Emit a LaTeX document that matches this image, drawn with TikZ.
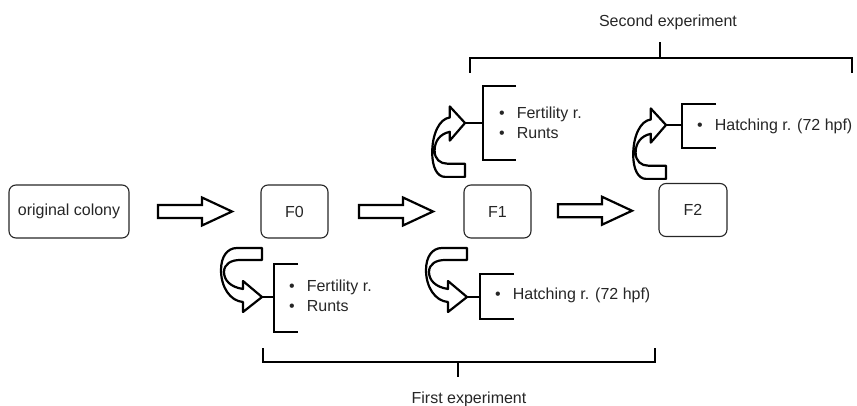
\documentclass[tikz,border=0pt]{standalone}
\usepackage{fontspec}
\setmainfont{Liberation Sans}
\usetikzlibrary{calc, positioning}

\tikzset{
  curvarr/.pic={
    \draw[line width=2.2pt, fill=white, line join=round]
      (0,0) -- (-19,-16) -- (-19,-8)
      .. controls (-32,-10) and (-38,-17) .. (-38,-25)
      .. controls (-38,-33) and (-31,-37) .. (-22,-37)
      -- (0,-37) -- (0,-49) -- (-25,-49)
      .. controls (-35,-49) and (-41,-40) .. (-41,-27)
      .. controls (-41,-10) and (-32,4) .. (-19,5)
      -- (-19,15) -- cycle;
  },
  blockarr/.pic={
    \draw[line width=2.2pt, fill=white]
      (-37,-6.5) -- (7,-6.5) -- (7,-14) -- (37,0) -- (7,14) -- (7,6.5) -- (-37,6.5) -- cycle;
  }
}

\begin{document}
\begin{tikzpicture}[x=1pt, y=-1pt,
    gen/.style={draw=black!85, line width=1.1pt, rounded corners=7pt, minimum height=53pt, inner sep=0pt, text=black!85, font=\fontsize{16}{19}\selectfont},
    brk/.style={line width=2pt},
    lbl/.style={inner sep=0pt, text=black!85, font=\fontsize{16}{19}\selectfont}]

        \useasboundingbox (0,0) rectangle (857,406);

        % generations
        \node[gen, minimum width=120pt] (orig) at (69,211.5) {original colony};
        \node[gen, minimum width=67pt] (f0) at (294.5,211.5) {F0};
        \node[gen, minimum width=67pt] (f1) at (497.5,211.5) {F1};
        \node[gen, minimum width=68pt] (f2) at (693,210) {F2};

        % block arrows between generations
        \pic at ($(orig.east)!0.5!(f0.west)$) {blockarr};
        \pic at ($(f0.east)!0.5!(f1.west)$) {blockarr};
        \pic at ($(f1.east)!0.5!(f2.west)$) {blockarr};

        % tips of the curved arrows and bracket middles
        \coordinate (tip0) at (262,297);   \coordinate (brk0) at (274,297);
        \coordinate (tip1) at (467,297);   \coordinate (brk1) at (480,297);
        \coordinate (tip1u) at (465,123);  \coordinate (brk1u) at (483,123);
        \coordinate (tip2u) at (666,125);  \coordinate (brk2u) at (682,125);

        % curved arrows
        \pic at (tip0) {curvarr};
        \pic at (tip1) {curvarr};
        \pic[xscale=0.8, yscale=-1.1] at (tip1u) {curvarr};
        \pic[xscale=0.8, yscale=-1.1] at (tip2u) {curvarr};

        % small brackets
        \draw[brk] (298,264) -- (274,264) -- (274,332) -- (298,332);
        \draw[brk] (tip0) -- (brk0);
        \draw[brk] (514,274) -- (480,274) -- (480,319) -- (514,319);
        \draw[brk] (tip1) -- (brk1);
        \draw[brk] (516,86) -- (483,86) -- (483,160) -- (516,160);
        \draw[brk] (tip1u) -- (brk1u);
        \draw[brk] (716,104) -- (682,104) -- (682,148) -- (716,148);
        \draw[brk] (tip2u) -- (brk2u);

        % measured traits
        \node[lbl, anchor=base west] (fert0) at (289,291) {\textbullet\hspace{12pt}Fertility r.};
        \node[lbl, anchor=base west] (runt0) at (289,311) {\textbullet\hspace{12pt}Runts};
        \node[lbl, anchor=base west] (hatch1) at (495,299) {\textbullet\hspace{12pt}Hatching r. (72 hpf)};
        \node[lbl, anchor=base west] (fert1) at (499,119) {\textbullet\hspace{12pt}Fertility r.};
        \node[lbl, anchor=base west] (runt1) at (499,139) {\textbullet\hspace{12pt}Runts};
        \node[lbl, anchor=base west] (hatch2) at (697,131) {\textbullet\hspace{12pt}Hatching r. (72 hpf)};

        % experiments
        \coordinate (top2) at (660,58);
        \coordinate (bot1) at (458,362);
        \draw[brk] (470,73) -- (470,58) -- (852,58) -- (852,73);
        \draw[brk] (top2) -- ++(0,-16);
        \draw[brk] (263,348) -- (263,362) -- (655,362) -- (655,348);
        \draw[brk] (bot1) -- ++(0,15);
        \node[lbl, anchor=base] (exp2) at (668,27) {Second experiment};
        \node[lbl, anchor=base] (exp1) at (469,403) {First experiment};

\end{tikzpicture}
\end{document}
